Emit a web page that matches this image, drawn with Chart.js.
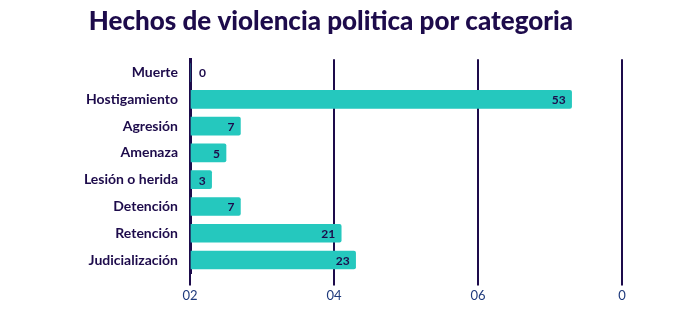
<!DOCTYPE html>
<html>
<head>
<meta charset="utf-8">
<script src="https://cdn.jsdelivr.net/npm/chart.js@4/dist/chart.umd.min.js"></script>
<style>
  body { margin: 0; background: #fff; }
  #wrap { width: 699px; height: 325px; }
</style>
</head>
<body>
<div id="wrap"><canvas id="chart"></canvas></div>
<script>
var categories = ['Muerte', 'Hostigamiento', 'Agresión', 'Amenaza', 'Lesión o herida', 'Detención', 'Retención', 'Judicialización'];
var values = [0, 53, 7, 5, 3, 7, 21, 23];
var tickLabels = ['02', '04', '06', '0'];

var dark = '#1d0b4b';

// draws the numbers at the end of each bar
var barLabels = {
    id: 'barLabels',
    afterDatasetsDraw: function(chart) {
        var ctx = chart.ctx;
        var meta = chart.getDatasetMeta(0);
        ctx.save();
        ctx.font = 'bold 12px Lato';
        ctx.fillStyle = dark;
        ctx.textBaseline = 'middle';
        meta.data.forEach(function(bar, i) {
            var v = values[i];
            if (v > 0) {
                ctx.textAlign = 'right';
                ctx.fillText(v, bar.x - 6, bar.y + 1);
            } else {
                ctx.textAlign = 'left';
                ctx.fillText(v, bar.x + 9, bar.y + 1);
            }
        });
        ctx.restore();
    }
};

var ctx = document.getElementById('chart').getContext('2d');
var myChart = new Chart(ctx, {
    type: 'bar',
    data: {
        labels: categories,
        datasets: [{
            data: values,
            backgroundColor: '#25c8be',
            borderRadius: 2,
            borderSkipped: 'start',
            barThickness: 18
        }]
    },
    options: {
        indexAxis: 'y',
        responsive: true,
        maintainAspectRatio: false,
        animation: false,
        layout: {
            padding: { left: 40, right: 77, top: 0, bottom: 18 }
        },
        plugins: {
            legend: { display: false },
            tooltip: { enabled: false },
            title: {
                display: true,
                text: 'Hechos de violencia politica por categoria',
                color: dark,
                font: { family: 'Lato', size: 26, weight: '900' },
                padding: { top: 6, bottom: 22 }
            }
        },
        scales: {
            x: {
                min: 0,
                max: 60,
                ticks: {
                    stepSize: 20,
                    color: '#1f3a7c',
                    font: { family: 'Lato', size: 13 },
                    padding: 3,
                    callback: function(v, i) { return tickLabels[i]; }
                },
                grid: {
                    color: dark,
                    lineWidth: 2,
                    tickLength: 12
                },
                border: { display: false }
            },
            y: {
                afterFit: function(scale) { scale.width = 150; },
                ticks: {
                    color: dark,
                    font: { family: 'Lato', size: 14, weight: 'bold' },
                    padding: 12
                },
                grid: { display: false, drawTicks: false },
                border: { display: true, color: dark, width: 3 }
            }
        }
    },
    plugins: [barLabels]
});
</script>
</body>
</html>
